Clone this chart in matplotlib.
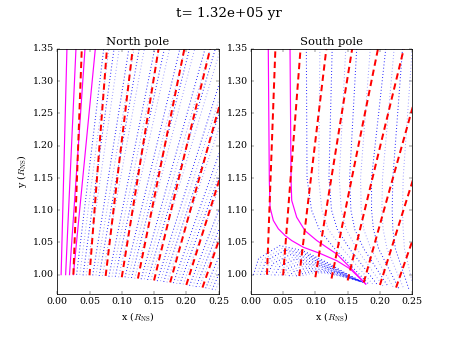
import matplotlib
matplotlib.use('Agg')
from matplotlib import pyplot as plt

plt.style.use('classic')
plt.rcParams['font.family'] = 'serif'
plt.rcParams['mathtext.fontset'] = 'cm'

# ---- North pole (x, y in R_NS) ----
# magenta lines: foot and crossing of y=1.35
n_mag_x0 = [0.006, 0.013, 0.019, 0.025]
n_mag_y0 = [1.000, 1.000, 1.000, 1.000]
n_mag_x1 = [0.015, 0.029, 0.043, 0.059]

# red dashed (dipole) lines, foot and crossing of y=1.35
red_x0 = [0.025, 0.050, 0.075, 0.100, 0.125, 0.150, 0.175, 0.200, 0.225]
red_y0 = [1.000, 0.999, 0.998, 0.996, 0.994, 0.991, 0.988, 0.984, 0.980]
red_x1 = [0.038, 0.077, 0.117, 0.157, 0.197, 0.237, 0.276, 0.315, 0.354]

# blue dotted lines, foot and crossing of y=1.35
n_blue_x0 = [0.030, 0.035, 0.040, 0.045, 0.055, 0.060, 0.065, 0.070,
             0.080, 0.085, 0.090, 0.095, 0.105, 0.110, 0.115, 0.120,
             0.130, 0.135, 0.140, 0.145, 0.155, 0.160, 0.165, 0.170,
             0.180, 0.185, 0.190, 0.195, 0.205, 0.210, 0.215, 0.220,
             0.230, 0.235, 0.240, 0.245]
n_blue_y0 = [1.000, 1.000, 0.999, 0.999, 0.999, 0.999, 0.998, 0.998,
             0.997, 0.997, 0.997, 0.996, 0.996, 0.995, 0.995, 0.994,
             0.993, 0.993, 0.992, 0.992, 0.990, 0.990, 0.989, 0.988,
             0.987, 0.986, 0.986, 0.985, 0.983, 0.982, 0.981, 0.981,
             0.979, 0.978, 0.977, 0.976]
n_blue_x1 = [0.072, 0.080, 0.088, 0.096, 0.111, 0.119, 0.127, 0.135,
             0.151, 0.158, 0.166, 0.174, 0.190, 0.198, 0.205, 0.213,
             0.229, 0.237, 0.245, 0.253, 0.268, 0.276, 0.284, 0.292,
             0.308, 0.315, 0.323, 0.331, 0.347, 0.355, 0.362, 0.370,
             0.386, 0.394, 0.402, 0.410]

# ---- South pole ----
s_mag1_x = [0.027, 0.0286, 0.0297, 0.0348, 0.0426, 0.053, 0.0633, 0.0814,
            0.107, 0.133, 0.154, 0.178]
s_mag1_y = [1.350, 1.146, 1.1045, 1.084, 1.071, 1.0606, 1.0528, 1.0424,
            1.033, 1.0217, 1.0088, 0.9855]
s_mag2_x = [0.0607, 0.0623, 0.0633, 0.071, 0.084, 0.102, 0.118, 0.133,
            0.154, 0.178]
s_mag2_y = [1.350, 1.146, 1.115, 1.089, 1.068, 1.053, 1.042, 1.032,
            1.011, 0.9855]

# closed loops near the surface, one entry per loop:
# left foot, rise, top, three points on the way down, right foot
loop_xf = [0.004, 0.0095, 0.015, 0.0205, 0.026, 0.0315, 0.037,
           0.0425, 0.048, 0.0535, 0.059, 0.0645, 0.070, 0.0755]
loop_yf = [1.000, 1.000, 1.000, 1.000, 1.000, 0.999, 0.999,
           0.999, 0.999, 0.999, 0.998, 0.998, 0.998, 0.998]
loop_rx = [0.012, 0.0175, 0.023, 0.0285, 0.034, 0.0395, 0.045,
           0.0505, 0.056, 0.0615, 0.067, 0.0725, 0.078, 0.083]
loop_ry = [1.025, 1.023, 1.021, 1.019, 1.017, 1.015, 1.013,
           1.011, 1.009, 1.007, 1.005, 1.003, 1.001, 0.999]
loop_px = [0.045, 0.049, 0.053, 0.057, 0.061, 0.065, 0.069,
           0.073, 0.077, 0.081, 0.086, 0.090, 0.094, 0.098]
loop_py = [1.045, 1.041, 1.038, 1.034, 1.031, 1.027, 1.024,
           1.020, 1.017, 1.013, 1.010, 1.007, 1.005, 1.003]
loop_ax = [0.081, 0.084, 0.087, 0.090, 0.093, 0.096, 0.099,
           0.102, 0.105, 0.108, 0.111, 0.113, 0.115, 0.117]
loop_ay = [1.037, 1.034, 1.031, 1.028, 1.025, 1.022, 1.019,
           1.016, 1.014, 1.011, 1.008, 1.006, 1.004, 1.002]
loop_bx = [0.118, 0.120, 0.121, 0.123, 0.124, 0.126, 0.127,
           0.129, 0.130, 0.132, 0.133, 0.135, 0.136, 0.137]
loop_by = [1.019, 1.017, 1.015, 1.013, 1.011, 1.009, 1.008,
           1.006, 1.005, 1.003, 1.002, 1.000, 0.999, 0.998]
loop_cx = [0.149, 0.150, 0.151, 0.152, 0.153, 0.154, 0.155,
           0.156, 0.157, 0.157, 0.158, 0.159, 0.159, 0.160]
loop_cy = [1.001, 1.000, 0.999, 0.998, 0.997, 0.996, 0.995,
           0.995, 0.994, 0.994, 0.993, 0.993, 0.993, 0.992]
loop_ex = [0.1745, 0.1740, 0.1735, 0.1730, 0.1725, 0.1720, 0.1715,
           0.1710, 0.1705, 0.1700, 0.1695, 0.1690, 0.1685, 0.1680]
loop_ey = [0.988, 0.988, 0.988, 0.988, 0.989, 0.989, 0.989,
           0.989, 0.989, 0.990, 0.990, 0.990, 0.990, 0.990]

# open lines right of the loops: x at the levels of s_open_lev, then the foot
s_open_lev = [1.35, 1.15, 1.10, 1.07, 1.04]
s_open_x = [
    [0.086, 0.087, 0.094, 0.106, 0.130, 0.183],
    [0.107, 0.105, 0.110, 0.120, 0.142, 0.190],
    [0.126, 0.121, 0.125, 0.134, 0.153, 0.197],
    [0.147, 0.137, 0.140, 0.148, 0.164, 0.205],
    [0.164, 0.153, 0.155, 0.161, 0.175, 0.213],
    [0.185, 0.170, 0.171, 0.175, 0.186, 0.221],
    [0.209, 0.187, 0.187, 0.190, 0.198, 0.229],
    [0.222, 0.204, 0.203, 0.205, 0.211, 0.237],
    [0.235, 0.220, 0.219, 0.220, 0.224, 0.245],
    [0.250, 0.236, 0.235, 0.236, 0.238, 0.253],
]
s_open_fy = [0.985, 0.984, 0.983, 0.982, 0.981, 0.980, 0.979, 0.978, 0.977, 0.976]

fig, (ax1, ax2) = plt.subplots(1, 2, figsize=(8, 5.995), dpi=57.25)

blue_lw = 1.3
for i in range(len(n_blue_x0)):
    ax1.plot([n_blue_x0[i], n_blue_x1[i]], [n_blue_y0[i], 1.35], 'b:',
             lw=blue_lw, alpha=1.0 if i % 2 == 0 else 0.45)
for i in range(len(n_mag_x0)):
    ax1.plot([n_mag_x0[i], n_mag_x1[i]], [n_mag_y0[i], 1.35], '-',
             color='magenta', lw=1.5)

for i in range(len(loop_xf)):
    xs = [loop_xf[i], loop_rx[i], loop_px[i], loop_ax[i], loop_bx[i],
          loop_cx[i], loop_ex[i]]
    ys = [loop_yf[i], loop_ry[i], loop_py[i], loop_ay[i], loop_by[i],
          loop_cy[i], loop_ey[i]]
    ax2.plot(xs, ys, 'b:', lw=blue_lw, alpha=1.0 if i % 2 == 0 else 0.45)
for i in range(len(s_open_x)):
    ax2.plot(s_open_x[i], s_open_lev + [s_open_fy[i]], 'b:', lw=blue_lw,
             alpha=1.0 if i % 2 == 0 else 0.45)
ax2.plot(s_mag1_x, s_mag1_y, '-', color='magenta', lw=1.5)
ax2.plot(s_mag2_x, s_mag2_y, '-', color='magenta', lw=1.5)

for ax in (ax1, ax2):
    for i in range(len(red_x0)):
        ax.plot([red_x0[i], red_x1[i]], [red_y0[i], 1.35], '--',
                color='red', lw=2.5, dashes=(8, 5))
    ax.set_aspect('equal')
    ax.set_xlim(0, 0.25)
    ax.set_ylim(0.97, 1.35)
    ax.set_xticks([0.0, 0.05, 0.10, 0.15, 0.20, 0.25])
    ax.set_yticks([1.0, 1.05, 1.10, 1.15, 1.20, 1.25, 1.30, 1.35])
    ax.set_xlabel(r'x ($R_{\rm NS}$)')

ax1.set_ylabel(r'y ($R_{\rm NS}$)')
ax1.set_title('North pole')
ax2.set_title('South pole')
fig.suptitle('t= 1.32e+05 yr', fontsize=17)

fig.savefig('out.png', dpi=57.25)
